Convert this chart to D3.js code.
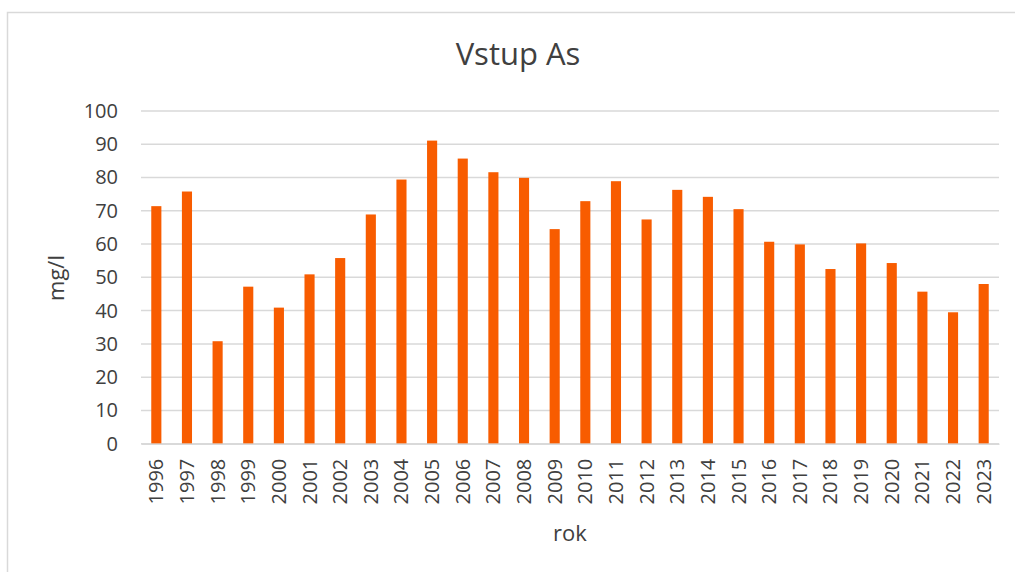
<!DOCTYPE html>
<html><head><meta charset="utf-8">
<script src="https://cdn.jsdelivr.net/npm/d3@7"></script>
<style>body{margin:0;background:#fff}svg{display:block}</style>
</head><body>
<svg id="c" width="1015" height="572"></svg>
<script>
const years = ["1996","1997","1998","1999","2000","2001","2002","2003","2004","2005","2006","2007","2008","2009","2010","2011","2012","2013","2014","2015","2016","2017","2018","2019","2020","2021","2022","2023"];
const values = [71.4,75.8,30.8,47.2,40.9,50.9,55.8,68.9,79.4,91.1,85.7,81.6,79.9,64.5,72.9,78.9,67.4,76.3,74.2,70.5,60.7,59.9,52.5,60.2,54.3,45.7,39.5,48.0];
const yTicks = [0,10,20,30,40,50,60,70,80,90,100];
const title = "Vstup As", xTitle = "rok", yTitle = "mg/l";

const svg = d3.select("#c");
const font = "'Open Sans', sans-serif";
const L = 141, R = 999, T = 111, B = 443.7;

// chart border
svg.append("path").attr("d", "M7.5,572 V12.5 H1015").attr("fill","none").attr("stroke","#d9d9d9").attr("stroke-width",1.5);

const x = d3.scaleBand().domain(years).range([L, R]).paddingInner(0.67).paddingOuter(0.335);
const y = d3.scaleLinear().domain([0, 100]).range([B, T]);

// gridlines
svg.append("g").selectAll("line").data(yTicks).join("line")
  .attr("x1", L).attr("x2", R).attr("y1", d => y(d)).attr("y2", d => y(d))
  .attr("stroke", "#d9d9d9").attr("stroke-width", 1.5);

// y axis labels
const ya = svg.append("g").attr("transform", `translate(${L},0)`)
  .call(d3.axisLeft(y).tickValues(yTicks).tickSize(0).tickPadding(23));
ya.select(".domain").remove();
ya.selectAll("text").attr("font-family", font).attr("font-size", 20).attr("fill", "#404040");

// bars
svg.append("g").selectAll("rect").data(values).join("rect")
  .attr("x", (d,i) => x(years[i])).attr("width", x.bandwidth())
  .attr("y", d => y(d)).attr("height", d => y(0) - y(d))
  .attr("fill", "#f85c00");

// x axis
const xa = svg.append("g").attr("transform", `translate(0,${B})`)
  .call(d3.axisBottom(x).tickSize(0).tickPadding(0));
xa.select(".domain").attr("stroke", "#d9d9d9").attr("stroke-width", 1.5);
xa.selectAll("text").attr("font-family", font).attr("font-size", 20).attr("fill", "#404040")
  .attr("transform", "rotate(-90)").attr("text-anchor", "end")
  .attr("x", -15).attr("y", 0).attr("dy", "0.35em");

// titles
svg.append("text").attr("x", 518).attr("y", 65).attr("text-anchor", "middle")
  .attr("font-family", font).attr("font-size", 31).attr("fill", "#404040").text(title);
svg.append("text").attr("x", 570).attr("y", 541).attr("text-anchor", "middle")
  .attr("font-family", font).attr("font-size", 22).attr("fill", "#404040").text(xTitle);
svg.append("text").attr("transform", "translate(64,278) rotate(-90)").attr("text-anchor", "middle")
  .attr("font-family", font).attr("font-size", 22).attr("fill", "#404040").text(yTitle);
</script>
</body></html>
